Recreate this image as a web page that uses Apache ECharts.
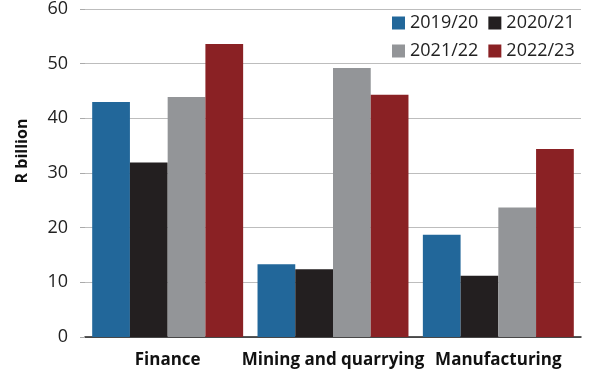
<!DOCTYPE html>
<html><head><meta charset="utf-8">
<script src="https://cdn.jsdelivr.net/npm/echarts@6/dist/echarts.min.js"></script>
<style>html,body{margin:0;padding:0;background:#fff}#c{width:594px;height:386px}</style>
</head><body><div id="c"></div>
<script>
const categories = ['Finance', 'Mining and quarrying', 'Manufacturing'];
const seriesNames = ['2019/20', '2020/21', '2021/22', '2022/23'];
const v2019 = [43.0, 13.3, 18.7];
const v2020 = [31.9, 12.4, 11.2];
const v2021 = [43.9, 49.2, 23.7];
const v2022 = [53.6, 44.3, 34.4];
const yTicks = [0, 10, 20, 30, 40, 50, 60];
const colors = ['#22679a', '#231f20', '#939598', '#8a2124'];
const values = [v2019, v2020, v2021, v2022];
const font = '"Open Sans", "Noto Sans", sans-serif';

const chart = echarts.init(document.getElementById('c'), null, {renderer: 'canvas'});
chart.setOption({
  animation: false,
  color: colors,
  textStyle: {fontFamily: font},
  grid: {left: 85, right: 13, top: 6, bottom: 49},
  legend: [
    {data: seriesNames.slice(0, 2), left: 387, top: 9, itemWidth: 13, itemHeight: 13, itemGap: 10,
     icon: 'rect', textStyle: {fontSize: 18, color: '#222', fontFamily: font}},
    {data: seriesNames.slice(2, 4), left: 387, top: 37, itemWidth: 13, itemHeight: 13, itemGap: 10,
     icon: 'rect', textStyle: {fontSize: 18, color: '#222', fontFamily: font}}
  ],
  xAxis: {
    type: 'category', data: categories,
    axisLine: {lineStyle: {color: '#222', width: 1.5}},
    axisTick: {show: false},
    axisLabel: {fontSize: 17, fontWeight: 'bold', color: '#111', margin: 15, interval: 0}
  },
  yAxis: {
    type: 'value', min: yTicks[0], max: yTicks[yTicks.length - 1], interval: 10,
    axisLine: {show: false},
    axisTick: {show: true, length: 5, lineStyle: {color: '#aaa'}},
    axisLabel: {fontSize: 18, color: '#222', margin: 17},
    splitLine: {lineStyle: {color: '#bdbdbd', width: 1}}
  },
  graphic: [{
    type: 'text', x: 22, y: 151, rotation: Math.PI / 2,
    style: {text: 'R billion', fontSize: 16, fontWeight: 'bold', fill: '#111', fontFamily: font,
            align: 'center', verticalAlign: 'middle'}
  }],
  series: seriesNames.map((n, i) => ({
    name: n, type: 'bar', data: values[i], barGap: '0%', barCategoryGap: '8.7%',
    itemStyle: {color: colors[i]}
  }))
});
</script></body></html>
